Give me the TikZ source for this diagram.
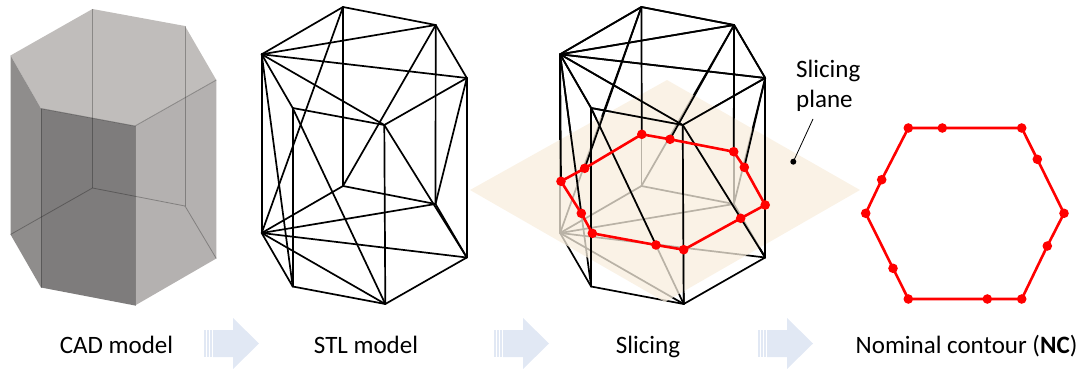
\documentclass[tikz,border=0pt]{standalone}
\usepackage{fontspec}
\setmainfont{Carlito}
\definecolor{planec}{HTML}{F8EEDE}
\definecolor{arrowc}{HTML}{E1E8F4}
\definecolor{topc}{HTML}{C0BDBB}
\definecolor{frontc}{HTML}{7E7C7C}
\definecolor{leftc}{HTML}{8F8D8C}
\definecolor{rightc}{HTML}{B4B1B0}
\definecolor{redc}{HTML}{FF0000}
\tikzset{
  wire/.style={line width=1.7pt,black,line join=round,line cap=round},
  cadedge/.style={line width=0.8pt,black,opacity=0.28},
  contour/.style={line width=2.6pt,redc,line join=round},
  rdot/.style={circle,fill=redc,inner sep=0pt,minimum size=9.6pt},
  caption/.style={font=\fontsize{25}{29}\selectfont,anchor=base,text=black,inner sep=0pt},
  blockarrow/.style={fill=arrowc,draw=none},
}
\newcommand{\blockarrowat}[1]{%
  \begin{scope}[shift={(#1,0)}]
    \fill[blockarrow] (0,330) rectangle (1.5,357);
    \fill[blockarrow] (2.8,330) rectangle (4.8,357);
    \fill[blockarrow] (6,330) rectangle (8,357);
    \fill[blockarrow] (9,330) -- (29,330) -- (29,318) -- (55,343.5) -- (29,369) -- (29,357) -- (9,357) -- cycle;
  \end{scope}}
\newcommand{\prismpts}[2]{%
  \begin{scope}[shift={(#1,0)}]
    \coordinate (#2A) at (343.0,7);   \coordinate (#2B) at (435.7,25);
    \coordinate (#2C) at (466.8,78);  \coordinate (#2D) at (384.3,125);
    \coordinate (#2E) at (292.7,108); \coordinate (#2F) at (261.7,54.3);
    \coordinate (#2a) at (343.0,186); \coordinate (#2b) at (435.5,204);
    \coordinate (#2c) at (466.8,257.5); \coordinate (#2d) at (385.3,304);
    \coordinate (#2e) at (292.7,286.5); \coordinate (#2f) at (261.7,233);
  \end{scope}}
\newcommand{\fullwire}[1]{%
  \foreach \u/\v in {F/A,A/B,B/C,C/D,D/E,E/F,F/B,F/C,F/D,A/f,A/a,B/a,B/b,C/b,C/c,D/d,D/c,E/d,E/e,F/f,F/e}
    \draw[wire] (#1\u) -- (#1\v);
  \foreach \u/\v in {f/a,a/b,b/c,c/d,d/e,e/f,f/b,f/c,f/d}
    \draw[wire] (#1\u) -- (#1\v);}
\begin{document}
\begin{tikzpicture}[x=1pt,y=-1pt]
\useasboundingbox (0,0) rectangle (1083,369);
% ---- CAD model
\coordinate (cA) at (92.5,9);   \coordinate (cB) at (185,26);
\coordinate (cC) at (216.3,80); \coordinate (cD) at (135,126);
\coordinate (cE) at (41,108.5); \coordinate (cF) at (10.5,55.5);
\coordinate (ca) at (92.5,188); \coordinate (cb) at (185,206);
\coordinate (cc) at (216.3,258.5); \coordinate (cd) at (135,305.5);
\coordinate (ce) at (41,287.5); \coordinate (cf) at (10.5,234.5);
\fill[topc] (cA) -- (cB) -- (cC) -- (cD) -- (cE) -- (cF) -- cycle;
\fill[leftc] (cF) -- (cE) -- (ce) -- (cf) -- cycle;
\fill[frontc] (cE) -- (cD) -- (cd) -- (ce) -- cycle;
\fill[rightc] (cD) -- (cC) -- (cc) -- (cd) -- cycle;
\foreach \u/\v in {E/D,D/C,E/e,D/d,A/a,B/b,a/b,b/c,a/f}
  \draw[cadedge] (c\u) -- (c\v);
% ---- STL model
\prismpts{0}{s}
\fullwire{s}
% ---- Slicing
\prismpts{298.4}{p}
\fullwire{p}
\coordinate (planeT) at (667,80); \coordinate (planeR) at (860,190);
\coordinate (planeB) at (665,302); \coordinate (planeL) at (470,190);
\fill[planec,opacity=0.75] (planeT) -- (planeR) -- (planeB) -- (planeL) -- cycle;
\coordinate (r1) at (561,181.3);    \coordinate (r2) at (584.7,168.3);
\coordinate (r3) at (641.8,134.3);  \coordinate (r4) at (670,139.3);
\coordinate (r5) at (733.7,151.7);  \coordinate (r6) at (744.3,167.3);
\coordinate (r7) at (765.2,205);    \coordinate (r8) at (740.7,218.3);
\coordinate (r9) at (683.7,249.7);  \coordinate (r10) at (656,245);
\coordinate (r11) at (592.3,233.3); \coordinate (r12) at (581.3,213.3);
\foreach \u/\v in {pF/pA,pA/pB,pB/pC,pC/pD,pD/pE,pE/pF,pF/pB,pF/pC,pF/pD,pA/r2,pA/r3,pB/r4,pB/r5,pC/r6,pC/pc,pD/pd,pD/pc,pE/r10,pE/pe,pF/r1,pF/r12}
  \draw[wire] (\u) -- (\v);
\draw[contour] (r1) -- (r2) -- (r3) -- (r4) -- (r5) -- (r6) -- (r7) -- (r8) -- (r9) -- (r10) -- (r11) -- (r12) -- cycle;
\foreach \i in {1,...,12} \node[rdot] (rd\i) at (r\i) {};
% ---- Slicing plane label
\node[font=\fontsize{25}{29.5}\selectfont,align=left,anchor=west,inner sep=0pt] (planelabel) at (796,86) {Slicing\\plane};
\node[circle,fill=black,inner sep=0pt,minimum size=6pt] (planedot) at (793.3,161.7) {};
\coordinate (leaderend) at (813,119);
\draw[line width=0.8pt,black] (planedot.center) -- (leaderend);
% ---- Nominal contour
\coordinate (n1) at (908.3,128); \coordinate (n2) at (942.3,128);
\coordinate (n3) at (1021.7,128); \coordinate (n4) at (1037.3,159.3);
\coordinate (n5) at (1064,213.3); \coordinate (n6) at (1047.3,246);
\coordinate (n7) at (1021.7,299); \coordinate (n8) at (987.3,299);
\coordinate (n9) at (908.3,299); \coordinate (n10) at (893,268.3);
\coordinate (n11) at (865.7,213.3); \coordinate (n12) at (881.7,179.7);
\draw[contour] (n1) -- (n2) -- (n3) -- (n4) -- (n5) -- (n6) -- (n7) -- (n8) -- (n9) -- (n10) -- (n11) -- (n12) -- cycle;
\foreach \i in {1,...,12} \node[rdot] (nd\i) at (n\i) {};
% ---- Arrows
\blockarrowat{204}
\blockarrowat{494}
\blockarrowat{758}
% ---- Captions
\node[caption] (cap1) at (116.5,353) {CAD model};
\node[caption] (cap2) at (366,353) {STL model};
\node[caption] (cap3) at (648,353) {Slicing};
\node[caption] (cap4) at (966.5,353) {Nominal contour (\textbf{NC})};
\end{tikzpicture}
\end{document}
